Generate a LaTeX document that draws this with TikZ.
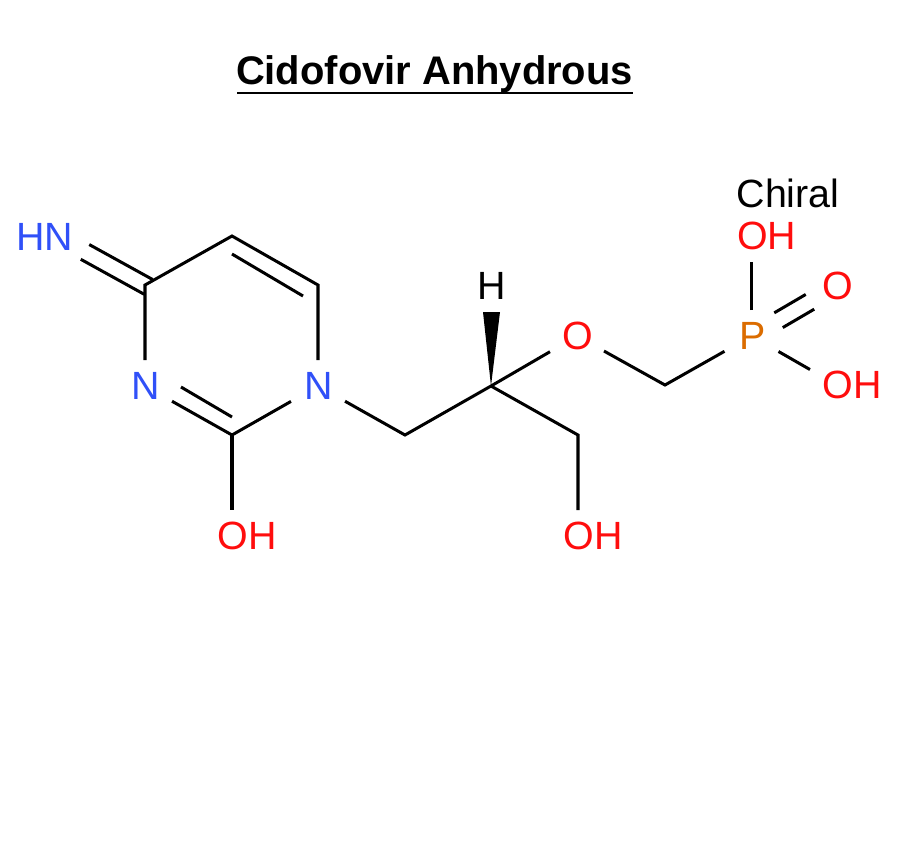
\documentclass[tikz,border=0pt]{standalone}
\usepackage{fontspec}
\setmainfont{Liberation Sans}
\definecolor{nitro}{RGB}{48,80,248}
\definecolor{oxy}{RGB}{255,13,13}
\definecolor{phos}{RGB}{219,108,0}
\tikzset{
	atom/.style={rectangle, inner sep=0pt, outer sep=0pt, minimum width=0.54cm, minimum height=0.52cm, font=\fontsize{11.2}{13}\selectfont, execute at begin node={\hspace{0.02cm}}},
	bond/.style={line width=0.03cm},
	bondoff/.style 2 args={bond, transform canvas={xshift=#1, yshift=#2}}
}

\begin{document}
\begin{tikzpicture}[x=0.01cm, y=-0.01cm]
		%%%%% START %%%%%
		\useasboundingbox (0, 0) rectangle (899, 850);
		
		% title
		\node[inner sep=0pt, anchor=base, font=\fontsize{11.35}{13}\selectfont\bfseries] (title) at (434.5, 84) {Cidofovir Anhydrous};
		\coordinate (ulstart) at (237, 93);
		\coordinate (ulend) at (633, 93);
		\draw[line width=0.025cm] (ulstart) -- (ulend);
		
		\node[atom] (chiral) at (787, 193) {Chiral};
		
		% labelled atoms
		\node[atom, nitro] (imine) at (58, 237) {\llap{H}N};
		\node[atom, nitro] (n3) at (145, 386) {N};
		\node[atom, nitro] (n1) at (318, 386) {N};
		\node[atom, oxy] (oh2) at (232, 536) {O\rlap{H}};
		\node[atom] (hyd) at (491, 286) {H};
		\node[atom, oxy] (ether) at (577, 336) {O};
		\node[atom, oxy] (oh3) at (578, 536) {O\rlap{H}};
		\node[atom, phos] (phosp) at (751.5, 336) {P};
		\node[atom, oxy] (ohtop) at (751.5, 236) {O\rlap{H}};
		\node[atom, oxy] (oxo) at (837, 286) {O};
		\node[atom, oxy] (ohlow) at (837, 385) {O\rlap{H}};
		
		% carbon vertices
		\coordinate (c4) at (145, 285);
		\coordinate (c5) at (232, 236);
		\coordinate (c6) at (318, 285);
		\coordinate (c2) at (232, 435);
		\coordinate (c5in) at (232, 254);
		\coordinate (c6in) at (303, 296);
		\coordinate (n3in) at (181, 387);
		\coordinate (c2in) at (232, 417);
		\coordinate (ch2a) at (405, 435);
		\coordinate (stereo) at (491, 386);
		\coordinate (ch2b) at (578, 435);
		\coordinate (ch2c) at (665, 385);
		\coordinate (wedgel) at (483, 312);
		\coordinate (wedger) at (500, 312);
		
		% ring
		\draw[bondoff={0.0425cm}{0.0736cm}, shorten >=-0.04cm] (imine) -- (c4);
		\draw[bondoff={-0.0425cm}{-0.0736cm}, shorten >=-0.04cm] (imine) -- (c4);
		\draw[bond] (n3) -- (c4) -- (c5) -- (c6) -- (n1);
		\draw[bond] (c5in) -- (c6in);
		\draw[bond] (n3) -- (c2) -- (n1);
		\draw[bond] (n3in) -- (c2in);
		\draw[bond] (c2) -- (oh2);
		
		% side chain
		\draw[bond] (n1) -- (ch2a) -- (stereo) -- (ether) -- (ch2c) -- (phosp);
		\draw[bond] (stereo) -- (ch2b) -- (oh3);
		\fill (stereo) -- (wedgel) -- (wedger) -- cycle;
		
		% phosphonate
		\draw[bond] (phosp) -- (ohtop);
		\draw[bondoff={-0.0425cm}{0.0736cm}] (phosp) -- (oxo);
		\draw[bondoff={0.0425cm}{-0.0736cm}] (phosp) -- (oxo);
		\draw[bond] (phosp) -- (ohlow);
		
		%%%%% END %%%%%
	\end{tikzpicture}
\end{document}
